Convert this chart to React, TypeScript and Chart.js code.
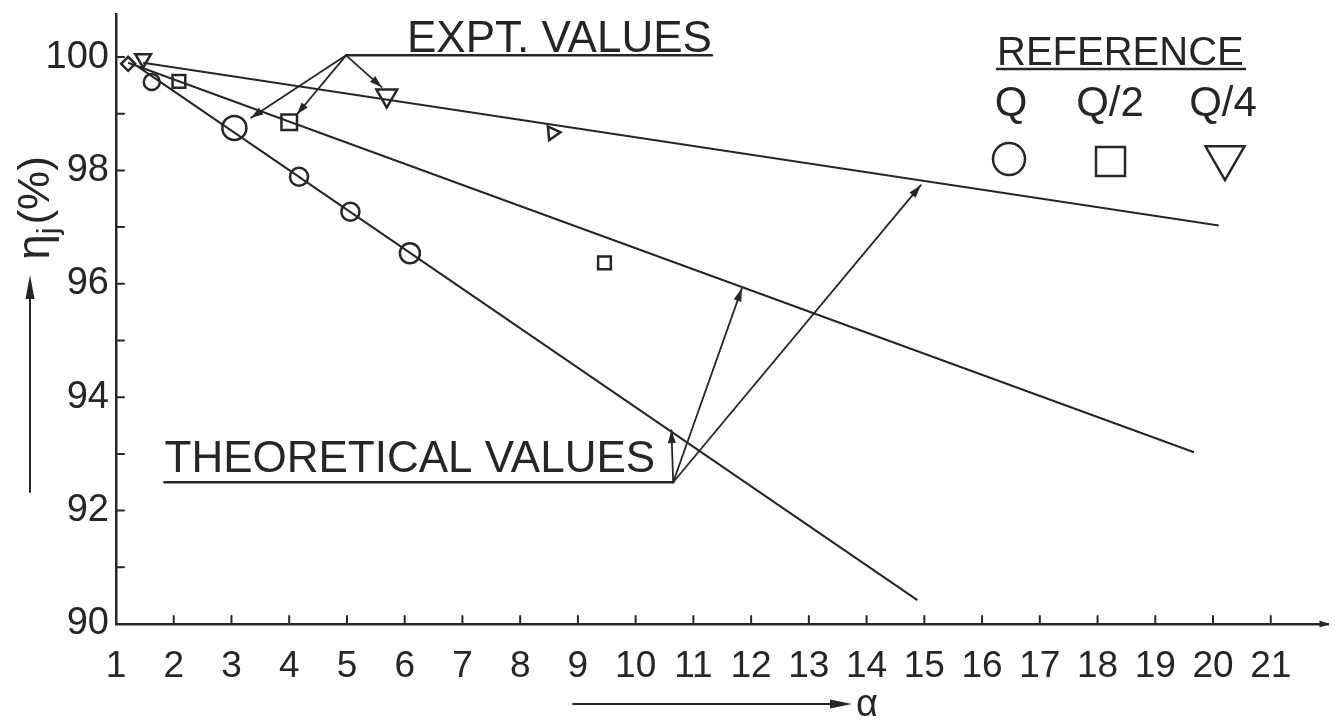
import React, { useEffect, useRef } from 'react';
import { Chart, registerables } from 'chart.js';

Chart.register(...registerables);

// ---------------- data ----------------
const xTickValues = [1, 2, 3, 4, 5, 6, 7, 8, 9, 10, 11, 12, 13, 14, 15, 16, 17, 18, 19, 20, 21];
const yTickValues = [90, 92, 94, 96, 98, 100];

// theoretical lines (alpha, eta %)
const theoryAlphaQ = [1.38, 14.88];
const theoryEtaQ = [99.83, 90.42];
const theoryAlphaQ2 = [1.21, 19.67];
const theoryEtaQ2 = [99.9, 93.03];
const theoryAlphaQ4 = [1.47, 20.1];
const theoryEtaQ4 = [99.9, 97.03];

// experimental values
const exptAlphaQ = [1.62, 3.05, 4.17, 5.06, 6.09];
const exptEtaQ = [99.56, 98.75, 97.89, 97.27, 96.54];
const exptAlphaQ2 = [1.21, 2.09, 4.0, 9.46];
const exptEtaQ2 = [99.88, 99.57, 98.85, 96.37];
const exptAlphaQ4 = [1.47, 5.69, 8.56];
const exptEtaQ4 = [99.97, 99.32, 98.66];

const INK = '#262626';
const FONT = "'Liberation Sans', Arial, sans-serif";

const pts = (xs: number[], ys: number[]) => xs.map((v, i) => ({ x: v, y: ys[i] }));

// annotation layout (data units for things pointing at the data)
const ANNOT = {
  exptApex: [4.985, 100.03],
  exptUnderlineEnd: 11.32,
  exptTargets: [
    [3.34, 98.93],
    [4.135, 98.99],
    [5.6, 99.47],
  ],
  theoApex: [10.65, 92.5],
  theoUnderlineStart: 1.84,
  theoTargets: [
    [10.62, 93.42],
    [11.84, 95.92],
    [14.94, 97.74],
  ],
};

function arrowHead(ctx: CanvasRenderingContext2D, x0: number, y0: number, x1: number, y1: number, len = 13, half = 4.5) {
  const a = Math.atan2(y1 - y0, x1 - x0);
  ctx.beginPath();
  ctx.moveTo(x1, y1);
  ctx.lineTo(x1 - len * Math.cos(a) + half * Math.sin(a), y1 - len * Math.sin(a) - half * Math.cos(a));
  ctx.lineTo(x1 - len * Math.cos(a) - half * Math.sin(a), y1 - len * Math.sin(a) + half * Math.cos(a));
  ctx.closePath();
  ctx.fill();
}

function seg(ctx: CanvasRenderingContext2D, x0: number, y0: number, x1: number, y1: number) {
  ctx.beginPath();
  ctx.moveTo(x0, y0);
  ctx.lineTo(x1, y1);
  ctx.stroke();
}

const annotationPlugin = {
  id: 'annotations',
  afterDraw(chart: any) {
    const { ctx, chartArea, scales } = chart;
    const { left, right, bottom } = chartArea;
    const xs = scales.x;
    const ys = scales.y;
    const P = (a: number, e: number) => [xs.getPixelForValue(a), ys.getPixelForValue(e)];
    ctx.save();
    ctx.strokeStyle = INK;
    ctx.fillStyle = INK;
    ctx.lineCap = 'round';

    // inward tick marks
    ctx.lineWidth = 2;
    for (let v = 91; v <= 100; v++) {
      const py = ys.getPixelForValue(v);
      seg(ctx, left, py, left + 8, py);
    }
    for (let v = 2; v <= 21; v++) {
      const px = xs.getPixelForValue(v);
      seg(ctx, px, bottom, px, bottom - 8);
    }
    // x axis arrow head
    arrowHead(ctx, right - 20, bottom, right + 1, bottom, 10, 3.5);

    // ---- EXPT. VALUES ----
    const [ax, ay] = P(ANNOT.exptApex[0], ANNOT.exptApex[1]);
    const [ux] = P(ANNOT.exptUnderlineEnd, ANNOT.exptApex[1]);
    ctx.lineWidth = 2.5;
    seg(ctx, ax, ay, ux, ay);
    ctx.font = `44px ${FONT}`;
    ctx.textAlign = 'right';
    ctx.textBaseline = 'alphabetic';
    ctx.fillText('EXPT. VALUES', ux, ay - 3);
    ctx.lineWidth = 1.8;
    ANNOT.exptTargets.forEach(([tx, ty]) => {
      const [px, py] = P(tx, ty);
      seg(ctx, ax, ay, px, py);
      arrowHead(ctx, ax, ay, px, py, 12, 4);
    });

    // ---- THEORETICAL VALUES ----
    const [bx, by] = P(ANNOT.theoApex[0], ANNOT.theoApex[1]);
    const [sx] = P(ANNOT.theoUnderlineStart, ANNOT.theoApex[1]);
    ctx.lineWidth = 2.5;
    seg(ctx, sx, by, bx, by);
    ctx.textAlign = 'left';
    ctx.fillText('THEORETICAL VALUES', sx, by - 10);
    ctx.lineWidth = 1.8;
    ANNOT.theoTargets.forEach(([tx, ty]) => {
      const [px, py] = P(tx, ty);
      seg(ctx, bx, by, px, py);
      arrowHead(ctx, bx, by, px, py, 13, 4);
    });

    // ---- reference legend ----
    ctx.font = `40px ${FONT}`;
    ctx.textAlign = 'left';
    ctx.fillText('REFERENCE', 997, 65);
    ctx.lineWidth = 2.5;
    seg(ctx, 997, 69, 1245, 69);
    ctx.font = `42px ${FONT}`;
    ctx.textAlign = 'center';
    ctx.fillText('Q', 1011, 116);
    ctx.fillText('Q/2', 1110, 116);
    ctx.fillText('Q/4', 1223, 116);
    ctx.lineWidth = 2.5;
    ctx.beginPath();
    ctx.arc(1009, 159, 16, 0, Math.PI * 2);
    ctx.stroke();
    ctx.strokeRect(1096, 147, 29, 29);
    const tr = 22.5;
    const tcx = 1225;
    const tcy = 157.5;
    ctx.beginPath();
    ctx.moveTo(tcx, tcy + tr);
    ctx.lineTo(tcx - tr * Math.sin(Math.PI / 3), tcy - tr / 2);
    ctx.lineTo(tcx + tr * Math.sin(Math.PI / 3), tcy - tr / 2);
    ctx.closePath();
    ctx.stroke();

    // ---- y axis title ----
    ctx.save();
    ctx.translate(49, 208);
    ctx.rotate(-Math.PI / 2);
    ctx.textAlign = 'left';
    ctx.textBaseline = 'alphabetic';
    ctx.font = `46px ${FONT}`;
    const w1 = ctx.measureText('η').width;
    ctx.font = `30px ${FONT}`;
    const w2 = ctx.measureText('j').width;
    ctx.font = `44px ${FONT}`;
    const w3 = ctx.measureText('(%)').width;
    const total = w1 + w2 + 3 + w3;
    let cx = -total / 2;
    ctx.font = `46px ${FONT}`;
    ctx.fillText('η', cx, 0);
    cx += w1;
    ctx.font = `30px ${FONT}`;
    ctx.fillText('j', cx, 9);
    cx += w2 + 3;
    ctx.font = `44px ${FONT}`;
    ctx.fillText('(%)', cx, 0);
    ctx.restore();
    ctx.lineWidth = 2;
    seg(ctx, 30, 492, 30, 290);
    arrowHead(ctx, 30, 492, 30, 275, 24, 4.5);

    // ---- x axis title ----
    seg(ctx, 573, 704, 835, 704);
    arrowHead(ctx, 573, 704, 852, 704, 22, 4.5);
    ctx.font = `38px ${FONT}`;
    ctx.textAlign = 'left';
    ctx.fillText('α', 856, 716);

    ctx.restore();
  },
};

export default function App() {
  const canvasRef = useRef<HTMLCanvasElement | null>(null);

  useEffect(() => {
    if (!canvasRef.current) return;
    const chart = new Chart(canvasRef.current, {
      type: 'scatter',
      data: {
        datasets: [
          { label: 'Theory Q', data: pts(theoryAlphaQ, theoryEtaQ), showLine: true, borderColor: INK, borderWidth: 2, pointRadius: 0 },
          { label: 'Theory Q/2', data: pts(theoryAlphaQ2, theoryEtaQ2), showLine: true, borderColor: INK, borderWidth: 2, pointRadius: 0 },
          { label: 'Theory Q/4', data: pts(theoryAlphaQ4, theoryEtaQ4), showLine: true, borderColor: INK, borderWidth: 2, pointRadius: 0 },
          {
            label: 'Q', data: pts(exptAlphaQ, exptEtaQ), showLine: false,
            pointStyle: 'circle', pointRadius: [8, 12, 9, 9, 10], pointBorderWidth: 2.5,
            pointBorderColor: INK, pointBackgroundColor: 'rgba(255,255,255,0)',
          },
          {
            label: 'Q/2', data: pts(exptAlphaQ2, exptEtaQ2), showLine: false,
            pointStyle: ['rectRot', 'rect', 'rect', 'rect'], pointRadius: [7, 9, 11, 9], pointBorderWidth: 2.5,
            pointBorderColor: INK, pointBackgroundColor: 'rgba(255,255,255,0)',
          },
          {
            label: 'Q/4', data: pts(exptAlphaQ4, exptEtaQ4), showLine: false,
            pointStyle: 'triangle', pointRotation: [180, 180, 205], pointRadius: [9, 12, 8], pointBorderWidth: 2.5,
            pointBorderColor: INK, pointBackgroundColor: 'rgba(255,255,255,0)',
          },
        ],
      } as any,
      options: {
        responsive: false,
        animation: false,
        layout: { padding: { left: 0, right: 8, top: 14, bottom: 0 } },
        plugins: { legend: { display: false }, tooltip: { enabled: false } },
        scales: {
          x: {
            type: 'linear', min: 1, max: 22,
            grid: { display: false, drawTicks: false },
            border: { display: true, color: INK, width: 2.5 },
            ticks: { color: INK, font: { family: FONT, size: 37 }, padding: 21, autoSkip: false, maxRotation: 0, minRotation: 0 },
            afterBuildTicks: (s: any) => { s.ticks = xTickValues.map((v) => ({ value: v })); },
            afterFit: (s: any) => { s.height = 97; s.paddingLeft = 0; s.paddingRight = 0; },
          },
          y: {
            type: 'linear', min: 90, max: 100.75,
            grid: { display: false, drawTicks: false },
            border: { display: true, color: INK, width: 2.5 },
            ticks: { color: INK, font: { family: FONT, size: 38 }, padding: 7 },
            afterBuildTicks: (s: any) => { s.ticks = yTickValues.map((v) => ({ value: v })); },
            afterFit: (s: any) => { s.width = 116; s.paddingTop = 0; s.paddingBottom = 0; },
          },
        },
      } as any,
      plugins: [annotationPlugin],
    });
    return () => chart.destroy();
  }, []);

  return (
    <div style={{ position: 'fixed', left: 0, top: 0, width: 1343, height: 721, background: '#fff' }}>
      <canvas ref={canvasRef} width={1343} height={721} />
    </div>
  );
}
